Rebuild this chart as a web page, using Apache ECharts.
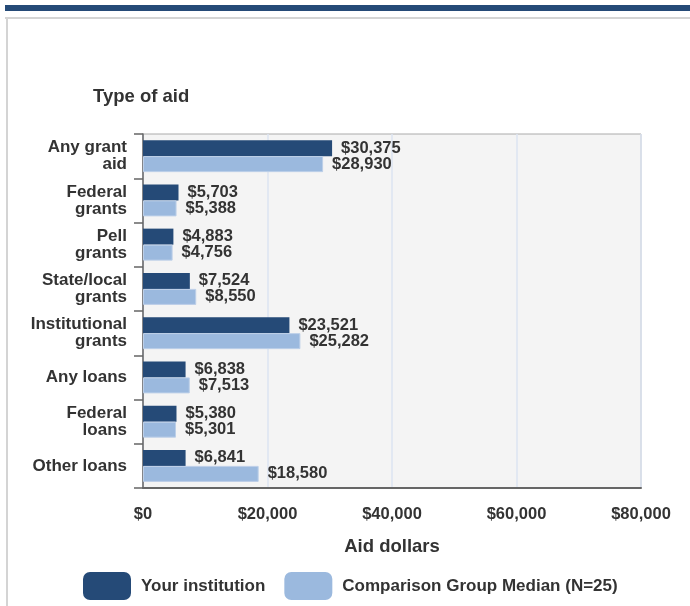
<!DOCTYPE html>
<html>
<head>
<meta charset="utf-8">
<script src="https://cdn.jsdelivr.net/npm/echarts@6/dist/echarts.min.js"></script>
<style>
  html, body { margin: 0; padding: 0; background: #fff; }
  #chart { width: 690px; height: 606px; }
</style>
</head>
<body>
<div id="chart"></div>
<script>
// data
const categories = ["Any grant\naid", "Federal\ngrants", "Pell\ngrants", "State/local\ngrants",
  "Institutional\ngrants", "Any loans", "Federal\nloans", "Other loans"];
const yourInstitution = [30375, 5703, 4883, 7524, 23521, 6838, 5380, 6841];
const comparisonMedian = [28930, 5388, 4756, 8550, 25282, 7513, 5301, 18580];
const xTicks = [0, 20000, 40000, 60000, 80000];

const dark = "#254a77";
const light = "#9bb9de";
const textColor = "#333";
const font = "'Liberation Sans', Arial, sans-serif";

const fmt = v => "$" + v.toLocaleString("en-US");

const chart = echarts.init(document.getElementById("chart"));

const labelStyle = {
  show: true,
  position: "right",
  distance: 9,
  formatter: p => fmt(p.value),
  fontFamily: font,
  fontWeight: "bold",
  fontSize: 16.5,
  color: textColor
};

chart.setOption({
  animation: false,
  textStyle: { fontFamily: font },
  title: {
    text: "Type of aid",
    left: 88,
    top: 82,
    textStyle: { fontFamily: font, fontWeight: "bold", fontSize: 18.5, color: textColor }
  },
  graphic: [
    { type: "rect", shape: { x: 5, y: 5, width: 685, height: 6 }, style: { fill: "#254a77" } },
    { type: "rect", shape: { x: 5, y: 17, width: 685, height: 2 }, style: { fill: "#d4d4d4" } },
    { type: "rect", shape: { x: 6, y: 17, width: 2, height: 589 }, style: { fill: "#d4d4d4" } }
  ],
  legend: {
    left: 78,
    top: 567,
    itemWidth: 48,
    itemHeight: 28,
    itemGap: 19,
    selectedMode: false,
    textStyle: { fontFamily: font, fontWeight: "bold", fontSize: 17, color: textColor, padding: [0, 0, 0, 5] },
    data: [
      { name: "Your institution", itemStyle: { borderRadius: 6 } },
      { name: "Comparison Group Median (N=25)", itemStyle: { borderRadius: 6, borderWidth: 0 } }
    ]
  },
  grid: {
    left: 143,
    right: 49,
    top: 134,
    bottom: 118,
    show: true,
    backgroundColor: "#f4f4f4",
    borderColor: "#aaa",
    borderWidth: 1
  },
  xAxis: {
    type: "value",
    min: xTicks[0],
    max: xTicks[xTicks.length - 1],
    interval: xTicks[1] - xTicks[0],
    name: "Aid dollars",
    nameLocation: "middle",
    nameGap: 49,
    nameTextStyle: { fontFamily: font, fontWeight: "bold", fontSize: 18.5, color: textColor },
    axisLine: { show: true, lineStyle: { color: "#666", width: 2 } },
    axisTick: { show: false },
    axisLabel: {
      margin: 18,
      formatter: v => fmt(v),
      fontFamily: font,
      fontWeight: "bold",
      fontSize: 16.5,
      color: textColor
    },
    splitLine: { show: true, lineStyle: { color: "#dde4f2", width: 1.5 } }
  },
  yAxis: {
    type: "category",
    inverse: true,
    data: categories,
    axisLine: { show: true, lineStyle: { color: "#666", width: 1.5 } },
    axisTick: { show: true, length: 9, lineStyle: { color: "#666", width: 1.5 } },
    axisLabel: {
      margin: 16,
      fontFamily: font,
      fontWeight: "bold",
      fontSize: 17,
      lineHeight: 17,
      color: textColor,
      align: "right"
    }
  },
  series: [
    {
      name: "Your institution",
      type: "bar",
      data: yourInstitution,
      barWidth: 16,
      barGap: "0%",
      itemStyle: { color: dark },
      label: labelStyle
    },
    {
      name: "Comparison Group Median (N=25)",
      type: "bar",
      data: comparisonMedian,
      barWidth: 16,
      itemStyle: { color: light, borderColor: "#bccfe8", borderWidth: 1 },
      label: labelStyle
    }
  ]
});
</script>
</body>
</html>
